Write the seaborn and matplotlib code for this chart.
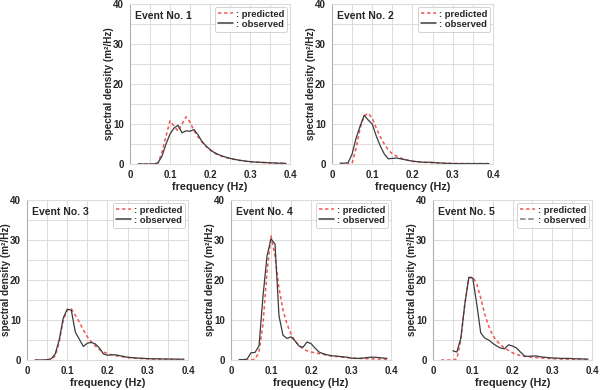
import numpy as np
import pandas as pd
import matplotlib
matplotlib.use("Agg")
import matplotlib.pyplot as plt
from matplotlib.ticker import MultipleLocator, FuncFormatter
from matplotlib.lines import Line2D
import seaborn as sns

# frequency grid (Hz)
freq = [round(0.02 + 0.01 * i, 2) for i in range(38)]

# event 1
obs1 = [0, 0, 0, 0, 0, 0.3, 2, 5, 7.5, 9, 9.7, 7.8, 8.3, 8.2, 8.6, 7.3, 5.6, 4.5, 3.6, 2.9,
        2.4, 2.0, 1.7, 1.4, 1.2, 1.0, 0.85, 0.7, 0.6, 0.5, 0.45, 0.4, 0.35, 0.3, 0.25, 0.2, 0.18, 0.15]
pred1 = [0, 0, 0, 0, 0, 0.2, 3, 7, 10.8, 9.5, 8.2, 10, 11.8, 10.5, 8.3, 6.8, 5.5, 4.4, 3.5, 2.8,
         2.3, 1.9, 1.6, 1.35, 1.15, 0.95, 0.8, 0.68, 0.58, 0.5, 0.44, 0.38, 0.33, 0.28, 0.24, 0.2, 0.17, 0.14]

# event 2
obs2 = [0.2, 0.2, 0.3, 2.5, 6.5, 9.5, 12.2, 11, 10, 7, 4.5, 2.5, 1.3, 1.4, 1.5, 1.3, 1.1, 0.9, 0.7, 0.6,
        0.5, 0.4, 0.45, 0.4, 0.3, 0.25, 0.2, 0.15, 0.1, 0.1, 0.1, 0.1, 0.1, 0.1, 0.1, 0.1, 0.1, 0.1]
pred2 = [0, 0, 0, 0.2, 4, 9, 12, 12.7, 11.5, 9, 6.8, 5, 3.5, 2.5, 2.0, 1.5, 1.2, 0.9, 0.7, 0.6,
         0.5, 0.42, 0.36, 0.3, 0.26, 0.22, 0.2, 0.18, 0.16, 0.14, 0.13, 0.12, 0.11, 0.1, 0.1, 0.1, 0.1, 0.1]

# event 3
obs3 = [0, 0, 0, 0.1, 0.3, 1.5, 5, 10.5, 12.7, 12.5, 7, 5.2, 3.4, 4.2, 4.4, 4, 3, 1.5, 1.2, 1.3,
        1.3, 1.1, 0.9, 0.7, 0.6, 0.5, 0.45, 0.4, 0.35, 0.3, 0.3, 0.28, 0.26, 0.25, 0.23, 0.22, 0.2, 0.2]
pred3 = [0, 0, 0, 0, 0.1, 1, 4.5, 10, 12.5, 12.8, 11.2, 9.5, 7.5, 5.8, 4.5, 3.5, 2.6, 2, 1.6, 1.3,
         1.1, 0.9, 0.75, 0.6, 0.5, 0.45, 0.4, 0.35, 0.3, 0.26, 0.23, 0.2, 0.18, 0.16, 0.14, 0.12, 0.11, 0.1]

# event 4
obs4 = [0.1, 0.1, 0.2, 1.8, 1.9, 3.5, 16, 26, 30.3, 29, 11, 6.2, 5.4, 5.8, 4.8, 3.5, 3.2, 4.5, 4.1, 3.0,
        2.0, 1.6, 1.3, 1.1, 1.0, 0.9, 0.8, 0.7, 0.5, 0.4, 0.4, 0.5, 0.6, 0.7, 0.7, 0.6, 0.5, 0.4]
pred4 = [0, 0, 0, 0, 0.2, 2, 9, 22, 31, 26, 18, 12.5, 9, 6.5, 4.8, 3.6, 2.8, 2.3, 2, 1.8,
         1.6, 1.4, 1.2, 1.0, 0.9, 0.8, 0.7, 0.6, 0.5, 0.45, 0.4, 0.36, 0.33, 0.3, 0.27, 0.24, 0.22, 0.2]

# event 5 (observed starts at 0.05 Hz)
obs5 = [np.nan, np.nan, np.nan, 2.3, 2.0, 5.5, 14, 20.7, 20.5, 14, 6.8, 5.5, 5, 4.2, 3.5, 3.0, 2.8, 3.8, 3.5, 3.0,
        2.0, 1.0, 0.9, 1.0, 1.0, 0.8, 0.7, 0.6, 0.5, 0.5, 0.4, 0.4, 0.4, 0.35, 0.3, 0.3, 0.25, 0.2]
pred5 = [0, 0, 0, 0, 0.3, 5, 14, 20.5, 20.8, 19, 15.5, 11.5, 8.5, 6.2, 4.8, 3.8, 3, 2.4, 1.8, 1.4,
         1.1, 0.9, 0.8, 0.7, 0.6, 0.5, 0.45, 0.4, 0.35, 0.3, 0.26, 0.23, 0.2, 0.18, 0.15, 0.13, 0.12, 0.1]

events = [("Event No. 1", obs1, pred1),
          ("Event No. 2", obs2, pred2),
          ("Event No. 3", obs3, pred3),
          ("Event No. 4", obs4, pred4),
          ("Event No. 5", obs5, pred5)]

sns.set_theme(style="whitegrid")
plt.rcParams["font.family"] = ["Liberation Sans", "DejaVu Sans"]
plt.rcParams["font.weight"] = "bold"

fig = plt.figure(figsize=(6, 3.9), dpi=100)

# axes boxes in figure fractions
boxes = [
    [0.2167, 0.5795, 0.2667, 0.41],
    [0.5533, 0.5795, 0.2683, 0.41],
    [0.045, 0.0769, 0.2683, 0.41],
    [0.385, 0.0769, 0.2667, 0.41],
    [0.7217, 0.0769, 0.2650, 0.41],
]

pred_color = "#f25555"
obs_color = "#3c3c3c"
grid_color = "#dcdcdc"
dash = (0, (2.2, 1.8))


def freq_fmt(v, pos):
    return "0" if abs(v) < 1e-9 else f"{v:.1f}"


for i, (title, obs, pred) in enumerate(events):
    ax = fig.add_axes(boxes[i])
    df = pd.DataFrame({"freq": freq, "observed": obs, "predicted": pred})
    sns.lineplot(data=df, x="freq", y="predicted", ax=ax, color=pred_color,
                 linestyle=dash, linewidth=1.1)
    sns.lineplot(data=df, x="freq", y="observed", ax=ax, color=obs_color,
                 linewidth=0.9)

    ax.set_xlim(0, 0.4)
    ax.set_ylim(0, 40)
    ax.xaxis.set_major_locator(MultipleLocator(0.1))
    ax.xaxis.set_minor_locator(MultipleLocator(0.05))
    ax.yaxis.set_major_locator(MultipleLocator(10))
    ax.yaxis.set_minor_locator(MultipleLocator(5))
    ax.xaxis.set_major_formatter(FuncFormatter(freq_fmt))
    ax.grid(True, which="both", color=grid_color, linewidth=0.7)
    for s in ax.spines.values():
        s.set_color(grid_color)
        s.set_linewidth(0.8)
    ax.spines["left"].set_color("#b0b0b0")
    ax.tick_params(axis="both", which="both", labelsize=7, length=3, width=0.7,
                   color="#909090", pad=1.5)
    ax.tick_params(axis="x", which="both", length=0, pad=4)
    ax.tick_params(axis="y", which="minor", length=2)
    for lab in ax.get_xticklabels() + ax.get_yticklabels():
        lab.set_fontweight("bold")

    ax.set_xlabel("frequency (Hz)", fontsize=7.8, fontweight="bold", labelpad=2)
    ax.set_ylabel("spectral density (m²/Hz)", fontsize=7.2, fontweight="bold")
    # anchor is the right edge of the rotated label
    ax.yaxis.set_label_coords(-0.098, 0.5)
    ax.text(0.03, 0.955, title, transform=ax.transAxes, fontsize=7.5,
            fontweight="bold", va="top", ha="left")

    obs_style = "--" if i == 4 else "-"
    handles = [Line2D([], [], color=pred_color, linestyle=dash, linewidth=1.1),
               Line2D([], [], color="#808080" if i == 4 else obs_color,
                      linestyle=obs_style, linewidth=1.1)]
    leg = ax.legend(handles, [": predicted", ": observed"], loc="upper right",
                    fontsize=6.8, frameon=True, handlelength=1.6, handletextpad=0.3,
                    borderpad=0.3, labelspacing=0.1, borderaxespad=0.3, fancybox=True)
    leg.get_frame().set_edgecolor("#c8c8c8")
    leg.get_frame().set_linewidth(0.7)
    for t in leg.get_texts():
        t.set_fontweight("bold")

fig.savefig("out.png", dpi=100)
